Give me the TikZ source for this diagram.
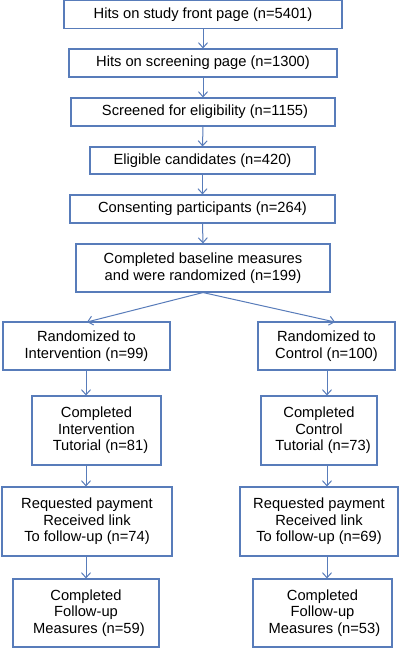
\documentclass[tikz,border=0pt]{standalone}
\usepackage{fontspec}
\setmainfont{Liberation Sans}
\usetikzlibrary{arrows.meta}
\definecolor{linec}{RGB}{88,124,186}
\tikzset{
  box/.style={draw=linec, line width=1.1pt, rectangle, inner sep=0pt, align=center,
    font=\fontsize{14.7}{16.5}\selectfont, text=black},
  arr/.style={draw=linec, line width=1pt, -{Straight Barb[length=5pt,width=9pt,line width=1pt]}}
}
\begin{document}
\begin{tikzpicture}[x=1pt,y=-1pt]
\useasboundingbox[fill=white] (0,0) rectangle (413,648);
\node[box, minimum width=278pt, minimum height=28pt] (b1) at (203,14.5) {Hits on study front page (n=5401)};
\node[box, minimum width=268pt, minimum height=28pt] (b2) at (203,63) {Hits on screening page (n=1300)};
\node[box, minimum width=264pt, minimum height=28pt] (b3) at (203,112) {\hspace*{4pt}Screened for eligibility (n=1155)};
\node[box, minimum width=225pt, minimum height=27pt] (b4) at (202.5,160.5) {Eligible candidates (n=420)};
\node[box, minimum width=265pt, minimum height=28pt] (b5) at (202.5,209) {Consenting participants (n=264)};
\node[box, minimum width=254pt, minimum height=48pt] (b6) at (203,268) {Completed baseline measures\\and were randomized (n=199)};
\node[box, minimum width=167pt, minimum height=48pt] (b7) at (86.5,346) {Randomized to\\Intervention (n=99)};
\node[box, minimum width=137pt, minimum height=48pt] (b8) at (326.5,346) {Randomized to\\Control (n=100)};
\node[box, minimum width=129pt, minimum height=69pt] (b9) at (96.5,430.5) {Completed\\Intervention\\\hspace*{8pt}Tutorial (n=81)};
\node[box, minimum width=116pt, minimum height=69pt] (b10) at (319,430.5) {Completed\\Control\\\hspace*{8pt}Tutorial (n=73)};
\node[box, minimum width=170pt, minimum height=69pt] (b11) at (87,521.5) {Requested payment\\Received link\\To follow-up (n=74)};
\node[box, minimum width=158pt, minimum height=69pt] (b12) at (319,521.5) {Requested payment\\Received link\\To follow-up (n=69)};
\node[box, minimum width=146pt, minimum height=68pt] (b13) at (86,613) {Completed\\Follow-up\\\hspace*{6pt}Measures (n=59)};
\node[box, minimum width=139pt, minimum height=68pt] (b14) at (322.5,613) {Completed\\Follow-up\\\hspace*{4pt}Measures (n=53)};
\draw[arr] (b1.south) -- (b2.north);
\draw[arr] (b2.south) -- (b3.north);
\draw[arr] (b3.south) -- (b4.north);
\draw[arr] (b4.south) -- (b5.north);
\draw[arr] (b5.south) -- (b6.north);
\coordinate (t7) at (87,322);
\coordinate (t8) at (335,322);
\draw[arr] (b6.south) -- (t7);
\draw[arr] (b6.south) -- (t8);
\draw[arr] (b7.south -| 86,0) -- (b9.north -| 86,0);
\draw[arr] (b9.south -| 86,0) -- (b11.north -| 86,0);
\draw[arr] (b11.south -| 86,0) -- (b13.north -| 86,0);
\draw[arr] (b8.south -| 327,0) -- (b10.north -| 327,0);
\draw[arr] (b10.south -| 327,0) -- (b12.north -| 327,0);
\draw[arr] (b12.south -| 327,0) -- (b14.north -| 327,0);
\end{tikzpicture}
\end{document}
